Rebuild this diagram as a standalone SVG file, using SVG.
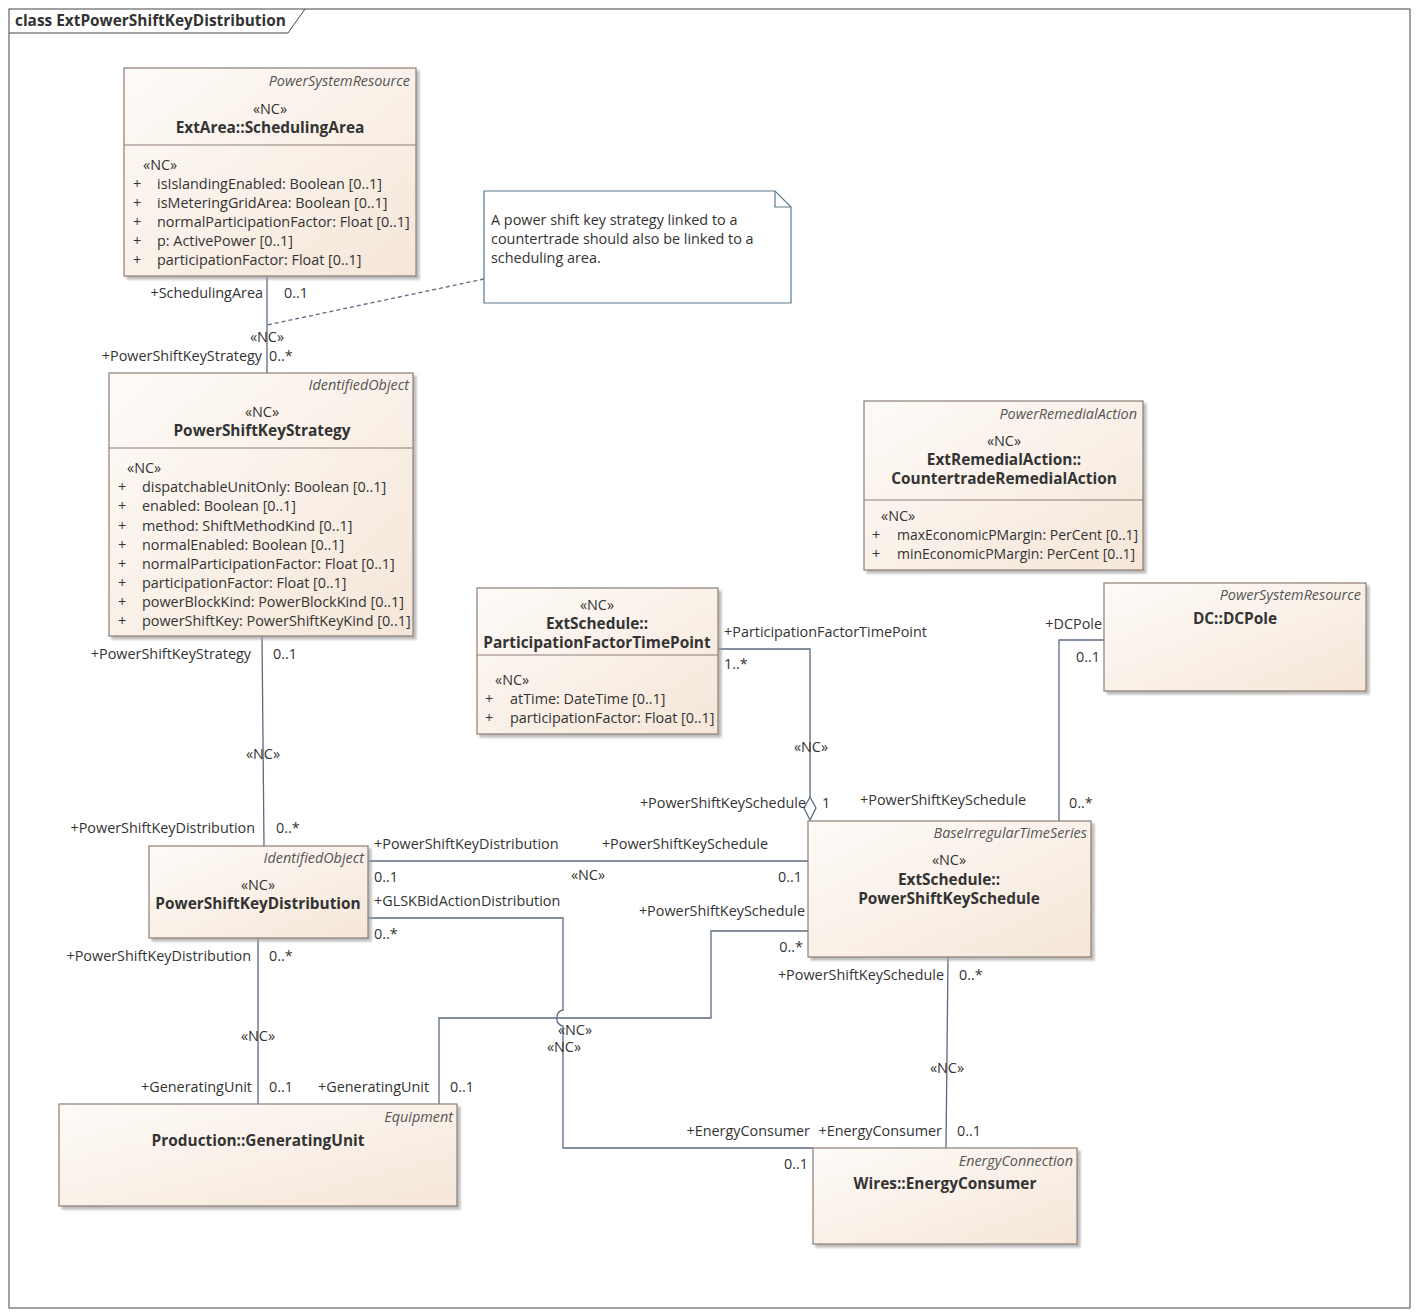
<svg xmlns="http://www.w3.org/2000/svg" width="1419" height="1316" viewBox="0 0 1419 1316">
<defs>
<linearGradient id="g" x1="0" y1="0" x2="1" y2="1"><stop offset="0" stop-color="#fefbf8"/><stop offset="1" stop-color="#f5e6d8"/></linearGradient>
<filter id="sh" x="-5%" y="-5%" width="110%" height="115%"><feDropShadow dx="3" dy="3" stdDeviation="1.2" flood-color="#a0a0a0" flood-opacity="0.7"/></filter>
</defs>
<style>
text{font-family:"Open Sans","Liberation Sans",sans-serif;font-size:14.4px;fill:#333}
.b{font-weight:bold;font-size:15.4px}
.i{font-style:italic;text-anchor:end;fill:#555}
.c{text-anchor:middle}
.r{text-anchor:end}
.s{font-size:14px}
.box{fill:url(#g);stroke:#8e7d74;stroke-width:1.2;filter:url(#sh)}
.sep{stroke:#8e7d74;stroke-width:1.2}
.ln{fill:none;stroke:#5b6b80;stroke-width:1.3}
</style>
<rect x="9" y="9" width="1401" height="1299" fill="#fff" stroke="#444"/>
<path d="M9,33 H288 L305,9" fill="none" stroke="#444"/>
<text x="15" y="26" class="b">class ExtPowerShiftKeyDistribution</text>

<g id="connectors">
<path class="ln" d="M267,276 V373"/>
<path class="ln" d="M484,279 L267,325" stroke-dasharray="4,3"/>
<path class="ln" d="M262,636 L264,846"/>
<path class="ln" d="M718,649 H810 V797"/>
<path d="M810,797 L816,808 L810,820 L804,808 Z" fill="#fff" stroke="#5b6b80" stroke-width="1.3"/>
<path class="ln" d="M1104,640 H1059 V821"/>
<path class="ln" d="M368,861 H808"/>
<path class="ln" d="M368,918 H563 V1010 A7,7 0 0 0 557,1018 A7,7 0 0 0 563,1026 V1148 H813"/>
<path class="ln" d="M808,931 H711 V1018 H439 V1104"/>
<path class="ln" d="M258,938 V1104"/>
<path class="ln" d="M948,957 L946,1148"/>
</g>

<g id="labels">
<text x="263" y="298" class="r">+SchedulingArea</text><text x="284" y="298">0..1</text>
<text x="267" y="342" class="c">«NC»</text>
<text x="262" y="361" class="r">+PowerShiftKeyStrategy</text><text x="269" y="361">0..*</text>
<text x="251" y="659" class="r">+PowerShiftKeyStrategy</text><text x="273" y="659">0..1</text>
<text x="263" y="759" class="c">«NC»</text>
<text x="255" y="833" class="r">+PowerShiftKeyDistribution</text><text x="276" y="833">0..*</text>
<text x="724" y="637">+ParticipationFactorTimePoint</text><text x="724" y="669">1..*</text>
<text x="811" y="752" class="c">«NC»</text>
<text x="806" y="808" class="r">+PowerShiftKeySchedule</text><text x="822" y="808">1</text>
<text x="1102" y="629" class="r">+DCPole</text><text x="1076" y="662">0..1</text>
<text x="860" y="805">+PowerShiftKeySchedule</text><text x="1069" y="808">0..*</text>
<text x="374" y="849">+PowerShiftKeyDistribution</text><text x="374" y="882">0..1</text>
<text x="588" y="880" class="c">«NC»</text>
<text x="768" y="849" class="r">+PowerShiftKeySchedule</text><text x="802" y="882" class="r">0..1</text>
<text x="374" y="906">+GLSKBidActionDistribution</text><text x="374" y="939">0..*</text>
<text x="805" y="916" class="r">+PowerShiftKeySchedule</text><text x="803" y="952" class="r">0..*</text>
<text x="575" y="1035" class="c">«NC»</text><text x="564" y="1052" class="c">«NC»</text>
<text x="318" y="1092">+GeneratingUnit</text><text x="450" y="1092">0..1</text>
<text x="251" y="961" class="r">+PowerShiftKeyDistribution</text><text x="269" y="961">0..*</text>
<text x="258" y="1041" class="c">«NC»</text>
<text x="252" y="1092" class="r">+GeneratingUnit</text><text x="269" y="1092">0..1</text>
<text x="944" y="980" class="r">+PowerShiftKeySchedule</text><text x="959" y="980">0..*</text>
<text x="947" y="1073" class="c">«NC»</text>
<text x="810" y="1136" class="r">+EnergyConsumer</text><text x="808" y="1169" class="r">0..1</text>
<text x="942" y="1136" class="r">+EnergyConsumer</text><text x="957" y="1136">0..1</text>
</g>

<g id="SchedulingArea">
<rect class="box" x="124" y="68" width="292" height="208"/>
<line class="sep" x1="124" y1="145" x2="416" y2="145"/>
<text x="410" y="86" class="i">PowerSystemResource</text>
<text x="270" y="114" class="c">«NC»</text>
<text x="270" y="133" class="c b">ExtArea::SchedulingArea</text>
<text x="143" y="170">«NC»</text>
<text x="133" y="189">+</text><text x="157" y="189">isIslandingEnabled: Boolean [0..1]</text>
<text x="133" y="208">+</text><text x="157" y="208">isMeteringGridArea: Boolean [0..1]</text>
<text x="133" y="227">+</text><text x="157" y="227">normalParticipationFactor: Float [0..1]</text>
<text x="133" y="246">+</text><text x="157" y="246">p: ActivePower [0..1]</text>
<text x="133" y="265">+</text><text x="157" y="265">participationFactor: Float [0..1]</text>
</g>

<g id="PowerShiftKeyStrategy">
<rect class="box" x="109" y="373" width="304" height="263"/>
<line class="sep" x1="109" y1="448" x2="413" y2="448"/>
<text x="409" y="390" class="i">IdentifiedObject</text>
<text x="262" y="417" class="c">«NC»</text>
<text x="262" y="436" class="c b">PowerShiftKeyStrategy</text>
<text x="127" y="473">«NC»</text>
<text x="118" y="492">+</text><text x="142" y="492">dispatchableUnitOnly: Boolean [0..1]</text>
<text x="118" y="511">+</text><text x="142" y="511">enabled: Boolean [0..1]</text>
<text x="118" y="531">+</text><text x="142" y="531">method: ShiftMethodKind [0..1]</text>
<text x="118" y="550">+</text><text x="142" y="550">normalEnabled: Boolean [0..1]</text>
<text x="118" y="569">+</text><text x="142" y="569">normalParticipationFactor: Float [0..1]</text>
<text x="118" y="588">+</text><text x="142" y="588">participationFactor: Float [0..1]</text>
<text x="118" y="607">+</text><text x="142" y="607">powerBlockKind: PowerBlockKind [0..1]</text>
<text x="118" y="626">+</text><text x="142" y="626">powerShiftKey: PowerShiftKeyKind [0..1]</text>
</g>

<g id="Note">
<path d="M484,191 H775 L791,207 V303 H484 Z" fill="#fff" stroke="#5b7a90" stroke-width="1.2"/>
<path d="M775,191 V207 H791" fill="none" stroke="#5b7a90" stroke-width="1.2"/>
<text x="491" y="225">A power shift key strategy linked to a</text>
<text x="491" y="244">countertrade should also be linked to a</text>
<text x="491" y="263">scheduling area.</text>
</g>

<g id="CountertradeRemedialAction">
<rect class="box" x="864" y="401" width="279" height="169"/>
<line class="sep" x1="864" y1="500" x2="1143" y2="500"/>
<text x="1137" y="419" class="i">PowerRemedialAction</text>
<text x="1004" y="446" class="c">«NC»</text>
<text x="1004" y="465" class="c b">ExtRemedialAction::</text>
<text x="1004" y="484" class="c b">CountertradeRemedialAction</text>
<text x="881" y="521">«NC»</text>
<text x="872" y="540">+</text><text x="897" y="540" class="s">maxEconomicPMargin: PerCent [0..1]</text>
<text x="872" y="559">+</text><text x="897" y="559" class="s">minEconomicPMargin: PerCent [0..1]</text>
</g>

<g id="DCPole">
<rect class="box" x="1104" y="583" width="262" height="108"/>
<text x="1361" y="600" class="i">PowerSystemResource</text>
<text x="1235" y="624" class="c b">DC::DCPole</text>
</g>

<g id="ParticipationFactorTimePoint">
<rect class="box" x="477" y="588" width="241" height="146"/>
<line class="sep" x1="477" y1="655" x2="718" y2="655"/>
<text x="597" y="610" class="c">«NC»</text>
<text x="597" y="629" class="c b">ExtSchedule::</text>
<text x="597" y="648" class="c b">ParticipationFactorTimePoint</text>
<text x="495" y="685">«NC»</text>
<text x="485" y="704">+</text><text x="510" y="704">atTime: DateTime [0..1]</text>
<text x="485" y="723">+</text><text x="510" y="723">participationFactor: Float [0..1]</text>
</g>

<g id="PowerShiftKeySchedule">
<rect class="box" x="808" y="821" width="283" height="136"/>
<text x="1087" y="838" class="i">BaseIrregularTimeSeries</text>
<text x="949" y="865" class="c">«NC»</text>
<text x="949" y="885" class="c b">ExtSchedule::</text>
<text x="949" y="904" class="c b">PowerShiftKeySchedule</text>
</g>

<g id="PowerShiftKeyDistribution">
<rect class="box" x="149" y="846" width="219" height="92"/>
<text x="364" y="863" class="i">IdentifiedObject</text>
<text x="258" y="890" class="c">«NC»</text>
<text x="258" y="909" class="c b">PowerShiftKeyDistribution</text>
</g>

<g id="GeneratingUnit">
<rect class="box" x="59" y="1104" width="398" height="102"/>
<text x="453" y="1122" class="i">Equipment</text>
<text x="258" y="1146" class="c b">Production::GeneratingUnit</text>
</g>

<g id="EnergyConsumer">
<rect class="box" x="813" y="1148" width="264" height="96"/>
<text x="1073" y="1166" class="i">EnergyConnection</text>
<text x="945" y="1189" class="c b">Wires::EnergyConsumer</text>
</g>
</svg>
